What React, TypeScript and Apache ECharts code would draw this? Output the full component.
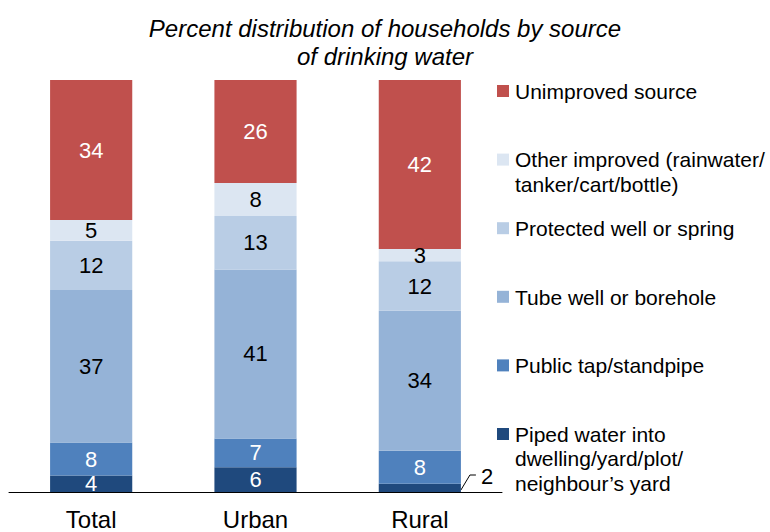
import React, { useEffect, useRef } from "react";
import * as echarts from "echarts";

const categories = ["Total", "Urban", "Rural"];

// stacked from the bottom up
const seriesNames = [
  "Piped water into dwelling/yard/plot/neighbour’s yard",
  "Public tap/standpipe",
  "Tube well or borehole",
  "Protected well or spring",
  "Other improved (rainwater/tanker/cart/bottle)",
  "Unimproved source",
];
const legendTexts = [
  "Piped water into\ndwelling/yard/plot/\nneighbour’s yard",
  "Public tap/standpipe",
  "Tube well or borehole",
  "Protected well or spring",
  "Other improved (rainwater/\ntanker/cart/bottle)",
  "Unimproved source",
];

const piped = [4, 6, 2];
const publicTap = [8, 7, 8];
const tubeWell = [37, 41, 34];
const protectedWell = [12, 13, 12];
const otherImproved = [5, 8, 3];
const unimproved = [34, 26, 42];

const seriesValues = [piped, publicTap, tubeWell, protectedWell, otherImproved, unimproved];
const colors = ["#1F497D", "#4F81BD", "#95B3D7", "#B9CDE5", "#DCE6F2", "#C0504D"];
const labelColors = ["#FFFFFF", "#FFFFFF", "#000000", "#000000", "#000000", "#FFFFFF"];

const FONT = "'Liberation Sans', Arial, Helvetica, sans-serif";

export default function App() {
  const ref = useRef<HTMLDivElement>(null);

  useEffect(() => {
    if (!ref.current) return;
    const chart = echarts.init(ref.current, undefined, { renderer: "svg" });

    const series = seriesValues.map((vals, si) => ({
      name: seriesNames[si],
      type: "bar",
      stack: "total",
      barWidth: "50%",
      itemStyle: { color: colors[si] },
      label: {
        show: true,
        position: "inside",
        color: labelColors[si],
        fontSize: 22,
        fontFamily: FONT,
      },
      data: vals.map((v) =>
        v < 3
          ? {
              value: v,
              label: {
                show: true,
                position: "right",
                distance: 20,
                offset: [0, -11],
                color: "#000000",
                fontSize: 22,
                fontFamily: FONT,
              },
            }
          : v
      ),
    }));

    const legendGraphics: any[] = [];
    const n = seriesNames.length;
    for (let k = 0; k < n; k++) {
      const si = n - 1 - k;
      const cy = 91 + k * 68.6;
      legendGraphics.push({
        id: "lg-rect-" + k,
        type: "rect",
        shape: { x: 497, y: cy - 6, width: 12, height: 12 },
        style: { fill: colors[si] },
      });
      legendGraphics.push({
        id: "lg-text-" + k,
        type: "text",
        x: 515,
        y: cy - 12,
        style: {
          text: legendTexts[si],
          fontSize: 21,
          fontFamily: FONT,
          fill: "#000000",
          lineHeight: 24.5,
          verticalAlign: "top",
          align: "left",
        },
      });
    }

    chart.setOption({
      animation: false,
      backgroundColor: "#FFFFFF",
      title: {
        text: "Percent distribution of households by source\nof drinking water",
        left: "center",
        top: 9,
        textStyle: {
          fontSize: 24,
          fontStyle: "italic",
          fontWeight: "normal",
          fontFamily: FONT,
          color: "#000000",
          lineHeight: 28,
        },
      },
      grid: { left: 9, right: 268, top: 80, bottom: 40, containLabel: false },
      xAxis: {
        type: "category",
        data: categories,
        axisTick: { show: false },
        axisLine: { lineStyle: { color: "#000000", width: 1 } },
        axisLabel: { color: "#000000", fontSize: 24, fontFamily: FONT, margin: 15 },
      },
      yAxis: {
        type: "value",
        min: 0,
        max: 100,
        show: false,
        splitLine: { show: false },
      },
      series,
      graphic: legendGraphics,
    });

    // leader line for labels placed outside small segments
    const p0 = chart.convertToPixel({ gridIndex: 0 }, [0, 0]) as number[];
    const p1 = chart.convertToPixel({ gridIndex: 0 }, [1, 0]) as number[];
    const band = p1[0] - p0[0];
    const half = band * 0.25;
    const leaders: any[] = [];
    piped.forEach((v, ci) => {
      if (v < 3) {
        const p = chart.convertToPixel({ gridIndex: 0 }, [ci, 0]) as number[];
        const x = p[0] + half;
        const y = p[1] - 2;
        leaders.push({
          id: "leader-" + ci,
          type: "polyline",
          shape: { points: [[x, y], [x + 9, y - 15], [x + 15, y - 15]] },
          style: { stroke: "#000000", lineWidth: 1, fill: null },
        });
      }
    });
    chart.setOption({ graphic: [...legendGraphics, ...leaders] });

    return () => chart.dispose();
  }, []);

  return (
    <div
      ref={ref}
      style={{ position: "fixed", left: 0, top: 0, width: 770, height: 532, background: "#fff" }}
    />
  );
}
